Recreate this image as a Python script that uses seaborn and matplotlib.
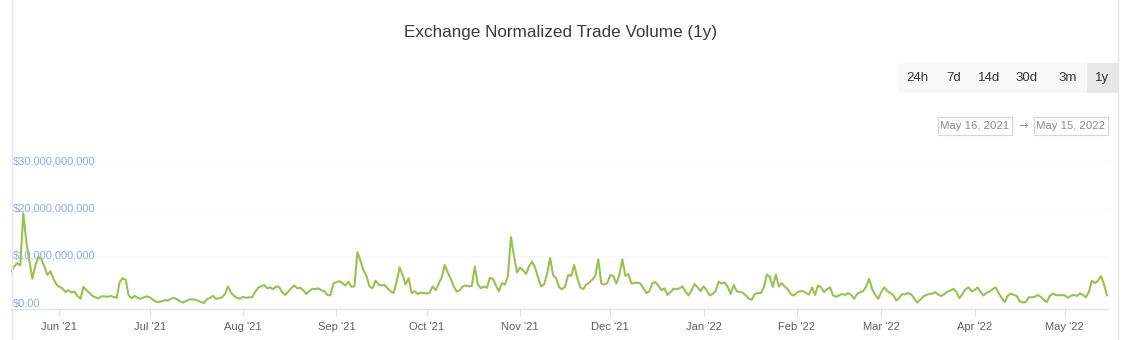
import numpy as np
import pandas as pd
import matplotlib
matplotlib.use("Agg")
import matplotlib.pyplot as plt
import matplotlib.dates as mdates
from matplotlib.patches import Rectangle
from matplotlib.lines import Line2D
import seaborn as sns

# ---- data: daily normalized trade volume, billions USD ----
may_2021 = [6.7, 7.8, 8.5, 8.0, 19.0, 13.0, 9.0, 5.2, 8.0, 9.8, 9.3, 7.8, 6.0, 6.8, 5.2, 4.0]
jun_2021 = [3.5, 3.2, 2.4, 2.8, 2.3, 2.5, 1.6, 1.0, 3.5, 2.8, 2.2, 1.6, 1.3, 1.1, 1.5,
            1.5, 1.4, 1.6, 1.4, 1.2, 4.5, 5.3, 5.0, 1.7, 1.1, 1.6, 1.2, 1.0, 1.3, 1.5]
jul_2021 = [1.3, 0.8, 0.4, 0.3, 0.5, 0.7, 0.6, 1.0, 1.2, 0.9, 0.5, 0.2, 0.5, 0.8, 0.9, 0.8,
            0.6, 0.3, 0.1, 0.9, 1.2, 1.6, 1.0, 1.1, 1.3, 2.0, 3.6, 2.3, 1.6, 1.2, 1.0]
aug_2021 = [1.4, 1.2, 1.3, 1.3, 2.4, 3.3, 3.6, 3.9, 3.2, 3.4, 3.0, 3.6, 3.4, 2.4, 1.8, 2.5,
            3.2, 3.8, 3.2, 3.3, 2.8, 2.0, 2.6, 3.1, 3.0, 3.2, 2.8, 2.6, 1.8, 1.7, 4.2]
sep_2021 = [4.5, 4.7, 4.3, 3.8, 4.6, 3.5, 3.6, 10.8, 9.0, 7.0, 5.8, 3.6, 3.2, 4.8, 4.0,
            3.8, 3.9, 3.2, 2.6, 2.2, 4.5, 7.6, 6.0, 4.0, 5.3, 2.2, 2.6, 2.0, 2.3, 2.2]
oct_2021 = [2.1, 2.3, 3.6, 2.8, 4.2, 5.5, 8.1, 6.5, 5.2, 3.6, 2.5, 2.8, 3.6, 3.8, 3.6, 3.7,
            7.8, 4.0, 3.2, 3.6, 3.3, 5.4, 5.2, 3.8, 2.6, 4.3, 4.0, 5.8, 14.0, 10.0, 6.5]
nov_2021 = [7.6, 7.0, 6.2, 7.8, 8.8, 7.6, 5.5, 3.6, 4.0, 6.2, 9.6, 6.0, 5.3, 3.4, 3.0,
            3.6, 6.0, 5.8, 8.1, 5.5, 3.4, 3.0, 4.0, 4.4, 5.0, 5.8, 9.3, 4.2, 4.0, 4.3]
dec_2021 = [6.0, 5.8, 4.2, 6.0, 9.3, 5.8, 6.2, 4.2, 4.3, 4.4, 4.2, 3.2, 2.2, 2.6, 4.3, 4.5,
            3.7, 2.8, 3.2, 1.8, 2.4, 3.1, 3.0, 3.2, 3.6, 2.5, 1.7, 2.8, 4.1, 3.4, 2.6]
jan_2022 = [3.6, 2.8, 1.7, 2.0, 2.6, 4.6, 4.2, 4.4, 3.5, 2.0, 3.9, 2.6, 2.4, 2.3, 1.7, 1.0,
            0.8, 2.0, 2.2, 2.2, 3.4, 6.1, 5.6, 3.5, 6.1, 3.6, 4.3, 3.5, 3.0, 1.9, 1.7]
feb_2022 = [2.3, 2.6, 2.6, 2.2, 1.9, 3.4, 1.8, 3.8, 3.4, 2.4, 3.0, 3.4, 1.7, 1.4, 1.7,
            2.0, 1.8, 2.2, 1.8, 1.0, 2.0, 2.4, 2.6, 3.6, 5.2, 3.0, 1.8, 1.0]
mar_2022 = [2.4, 3.4, 2.6, 2.2, 1.8, 0.6, 1.2, 2.0, 1.9, 2.2, 1.9, 1.0, 0.2, 0.8, 1.5, 1.8,
            2.0, 2.1, 2.4, 1.8, 1.6, 2.0, 2.5, 2.7, 3.1, 2.4, 1.1, 2.0, 3.0, 3.4, 2.6]
apr_2022 = [2.8, 3.4, 2.4, 1.7, 2.3, 2.5, 3.0, 3.4, 2.2, 1.2, 0.3, 1.6, 2.1, 1.8, 1.6,
            0.5, 0.2, 0.3, 1.3, 1.3, 1.4, 1.8, 1.4, 0.8, 0.3, 1.6, 2.1, 1.8, 1.7, 1.8]
may_2022 = [1.7, 1.2, 1.6, 1.8, 1.6, 2.1, 1.8, 1.3, 2.5, 4.8, 4.3, 4.8, 5.8, 4.0, 1.7]

start_date = "2021-05-16"
end_date = "2022-05-15"
y_ticks = [0, 10e9, 20e9, 30e9]
y_tick_labels = ["$0.00", "$10,000,000,000", "$20,000,000,000", "$30,000,000,000"]
range_buttons = ["24h", "7d", "14d", "30d", "3m", "1y"]
title = "Exchange Normalized Trade Volume (1y)"

volume_bn = (may_2021 + jun_2021 + jul_2021 + aug_2021 + sep_2021 + oct_2021 + nov_2021
             + dec_2021 + jan_2022 + feb_2022 + mar_2022 + apr_2022 + may_2022)
dates = pd.date_range(start_date, end_date, freq="D")
df = pd.DataFrame({"date": dates, "volume": np.array(volume_bn) * 1e9})

# ---- figure ----
W, H = 1139, 340
sns.set_theme(style="white")
plt.rcParams["font.family"] = ["Liberation Sans", "DejaVu Sans"]
fig = plt.figure(figsize=(W / 100, H / 100), dpi=100)
fig.patch.set_facecolor("white")

def fx(px):
    return px / W

def fy(py):
    return 1 - py / H

ax_left, ax_right, ax_top, ax_bottom = 11, 1108, 150, 309
ax = fig.add_axes([fx(ax_left), fy(ax_bottom), fx(ax_right - ax_left), (ax_bottom - ax_top) / H])
ax.set_facecolor("none")

sns.lineplot(data=df, x="date", y="volume", ax=ax, color="#98c24f", linewidth=1.5)

px_per_bn = 4.75
zero_py = 303.5
ax.set_ylim(-(ax_bottom - zero_py) / px_per_bn * 1e9, (zero_py - ax_top) / px_per_bn * 1e9)
ax.set_xlim(pd.Timestamp(start_date) - pd.Timedelta(hours=2), pd.Timestamp(end_date) + pd.Timedelta(hours=8))

for s in ["top", "right", "left"]:
    ax.spines[s].set_visible(False)
ax.spines["bottom"].set_color("#e3e3e3")
ax.spines["bottom"].set_linewidth(1.0)

ax.set_yticks(y_ticks)
ax.set_yticklabels([])
ax.tick_params(axis="y", length=0)
for v in y_ticks[1:]:
    ax.axhline(v, color="#f7f7f7", lw=0.8, zorder=0)
for v, lab in zip(y_ticks, y_tick_labels):
    ax.text(0.0015, v, lab, transform=ax.get_yaxis_transform(), ha="left", va="center",
            fontsize=8.0, color="#93a9dc", zorder=1)

ax.xaxis.set_major_locator(mdates.MonthLocator(bymonthday=1))
ax.xaxis.set_major_formatter(mdates.DateFormatter("%b '%y"))
ax.tick_params(axis="x", direction="out", length=5, width=0.8, color="#dcdcdc",
               labelsize=8.0, labelcolor="#5e5e5e", pad=4, bottom=True)
ax.set_xlabel("")
ax.set_ylabel("")
ax.grid(False)

# ---- card borders ----
fig.add_artist(Line2D([fx(12), fx(12)], [0, 1], color="#e8e8e8", lw=1))
fig.add_artist(Line2D([fx(1118), fx(1118)], [0, 1], color="#e8e8e8", lw=1))

# ---- title ----
fig.text(fx(561), fy(32), title, ha="center", va="center", fontsize=12.3, color="#3a3a3a")

# ---- range buttons ----
fig.add_artist(Rectangle((fx(898), fy(93)), fx(1118 - 898), (93 - 63) / H,
                         facecolor="#f8f8f8", edgecolor="none"))
fig.add_artist(Rectangle((fx(1087), fy(93)), fx(1118 - 1087), (93 - 63) / H,
                         facecolor="#e8e8e8", edgecolor="none"))
btn_x = [917, 954, 989, 1027, 1068, 1102]
for bx, lab in zip(btn_x, range_buttons):
    fig.text(fx(bx), fy(78), lab, ha="center", va="center", fontsize=9.5, color="#333333")

# ---- date range boxes ----
fig.add_artist(Rectangle((fx(938), fy(135)), fx(1012 - 938), 18 / H,
                         facecolor="white", edgecolor="#d6d6d6", lw=0.8))
fig.add_artist(Rectangle((fx(1034), fy(135)), fx(1108 - 1034), 18 / H,
                         facecolor="white", edgecolor="#d6d6d6", lw=0.8))
fig.text(fx(975), fy(126), "May 16, 2021", ha="center", va="center", fontsize=8.2, color="#8a8a8a")
fig.text(fx(1023), fy(126), "\u2192", ha="center", va="center", fontsize=8.0, color="#8a8a8a",
         family=["DejaVu Sans"])
fig.text(fx(1071), fy(126), "May 15, 2022", ha="center", va="center", fontsize=8.2, color="#8a8a8a")

fig.savefig("out.png", dpi=100, facecolor="white")
